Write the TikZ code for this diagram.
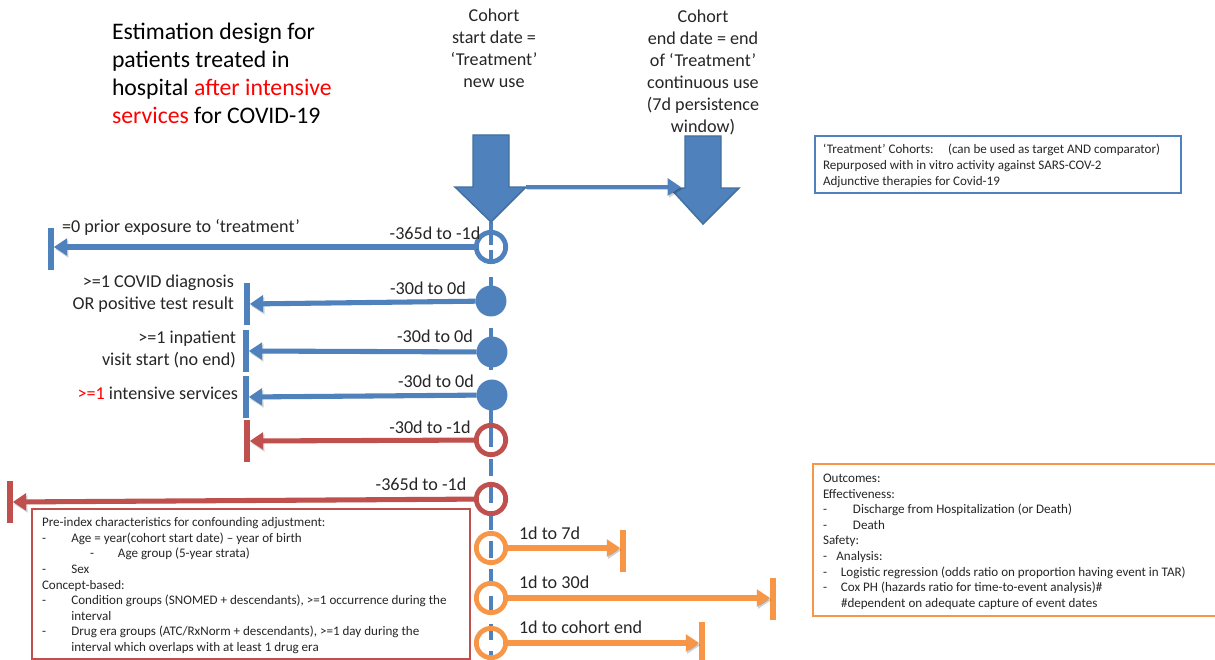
\documentclass[tikz,border=0pt]{standalone}
\usepackage{fontspec}
\setmainfont{Carlito}
\usetikzlibrary{arrows.meta}
\definecolor{bblue}{HTML}{4F81BD}
\definecolor{bdark}{HTML}{41719C}
\definecolor{bred}{HTML}{C0504D}
\definecolor{borange}{HTML}{F79646}
\definecolor{txt}{HTML}{262626}
\tikzset{
  x=.75pt,y=-.75pt,
  every node/.style={inner sep=0pt,outer sep=0pt,text=txt},
  title/.style={font=\fontsize{17.8}{21}\selectfont,anchor=west,align=left,text=black},
  lab/.style={font=\fontsize{13.6}{16.5}\selectfont},
  small/.style={font=\fontsize{9.8}{11.72}\selectfont,anchor=north west,align=left},
  smallb/.style={font=\fontsize{9.8}{12}\selectfont,anchor=north west,align=left},
  ring/.style={circle,draw=#1,line width=3.6pt,minimum size=22pt},
  disc/.style={circle,fill=bblue,minimum size=23.2pt},
  bar/.style={rectangle,fill=#1,minimum width=4.2pt,minimum height=31.5pt},
  conn/.style={draw=#1,line width=3.8pt,-{Triangle[length=10pt,width=12.5pt]},
    preaction={draw=black,opacity=.18,transform canvas={shift={(1pt,-1.5pt)}}}},
  bigarrow/.style={fill=bblue,draw=bdark,line width=1.1pt,line join=miter},
  dashtop/.style={draw=bblue,line width=3pt,dash pattern=on 17.25pt off 3.75pt on 9.75pt off 10.5pt on 26.25pt off 12pt on 31.5pt off 7.5pt on 50.25pt off 9pt},
  dashlow/.style={draw=bblue,line width=3pt,dash pattern=on 12.4pt off 8.2pt},
}
\begin{document}
\begin{tikzpicture}
\path[use as bounding box,fill=white] (0,0) rectangle (1215,660);
% timeline
\coordinate (tlstart) at (491,222);
\coordinate (tlmid) at (491,447);
\coordinate (tlmidb) at (491,459);
\coordinate (tlend) at (491,660);
\draw[dashtop] (tlstart) -- (tlmid);
\draw[dashlow] (tlmidb) -- (tlend);
% big arrows
\draw[bigarrow] (473,135) -- (509,135) -- (509,187) -- (526,187) -- (491,222) -- (455,187) -- (473,187) -- cycle;
\draw[bigarrow] (685,136) -- (721,136) -- (721,188) -- (739,188) -- (703,224) -- (670,188) -- (685,188) -- cycle;
\coordinate (spanA) at (526,187);
\coordinate (spanB) at (681,187);
\draw[conn=bblue,line width=3.4pt] (spanA) -- (spanB);
% circles
\node[ring=bblue] (c1) at (491,247) {};
\node[disc] (c2) at (491,301) {};
\node[disc] (c3) at (492,352) {};
\node[disc] (c4) at (492,395) {};
\node[ring=bred] (c5) at (491,440) {};
\node[ring=bred] (c6) at (491,499) {};
\node[ring=borange] (c7) at (491,548) {};
\node[ring=borange] (c8) at (491,598) {};
\node[ring=borange] (c9) at (491,643) {};
% bars
\node[bar=bblue] (b1) at (51,249) {};
\node[bar=bblue] (b2) at (247,304) {};
\node[bar=bblue] (b3) at (246,351) {};
\node[bar=bblue] (b4) at (246,397) {};
\node[bar=bred] (b5) at (247,441) {};
\node[bar=bred] (b6) at (10,502) {};
\node[bar=borange] (b7) at (623,551) {};
\node[bar=borange] (b8) at (773,599) {};
\node[bar=borange] (b9) at (702,643) {};
% connectors
\draw[conn=bblue] (c1.west) -- (c1.west -| b1.east);
\draw[conn=bblue] (c2) -- (b2);
\draw[conn=bblue] (c3) -- (b3);
\draw[conn=bblue] (c4) -- (b4);
\draw[conn=bred] (c5) -- (b5);
\draw[conn=bred] (c6) -- (b6);
\draw[conn=borange] (c7.east) -- (c7.east -| b7.west);
\draw[conn=borange] (c8.east) -- (c8.east -| b8.west);
\draw[conn=borange] (c9.east) -- (c9.east -| b9.west);
% title
\node[title] (ttl) at (112,73) {Estimation design for\\patients treated in\\hospital {\color{red}after intensive}\\{\color{red}services} for COVID-19};
% cohort labels
\node[lab,align=center] (ls) at (494,48) {Cohort\\start date =\\‘Treatment’\\new use};
\node[lab,align=center] (le) at (703,72) {Cohort\\end date = end\\of ‘Treatment’\\continuous use\\(7d persistence\\window)};
% arrow labels
\node[lab,anchor=west] (t1) at (62,227) {=0 prior exposure to ‘treatment’};
\node[lab] (t2) at (435,233) {-365d to -1d};
\node[lab,align=right,anchor=east] (t3) at (234,294) {>=1 COVID diagnosis\\OR positive test result};
\node[lab] (t4) at (428,288) {-30d to 0d};
\node[lab,align=right,anchor=east] (t5) at (236,349) {>=1 inpatient\\visit start (no end)};
\node[lab] (t6) at (435,336) {-30d to 0d};
\node[lab,anchor=east] (t7) at (238,393) {{\color{red}>=1} intensive services};
\node[lab] (t8) at (436,381) {-30d to 0d};
\node[lab] (t9) at (430,427) {-30d to -1d};
\node[lab] (t10) at (421,484) {-365d to -1d};
\node[lab,anchor=west] (t11) at (519,533) {1d to 7d};
\node[lab,anchor=west] (t12) at (519,582) {1d to 30d};
\node[lab,anchor=west] (t13) at (519,627) {1d to cohort end};
% boxes
\draw[bblue,line width=1.5pt] (815,136) rectangle (1181,193);
\node[smallb] (tb) at (823,143.5) {‘Treatment’ Cohorts:\hspace{1.1em}(can be used as target AND comparator)\\Repurposed with in vitro activity against SARS-COV-2\\Adjunctive therapies for Covid-19};
\draw[borange,line width=1.6pt] (1216,464) -- (813,464) -- (813,616) -- (1216,616);
\node[small] (to) at (823,474) {Outcomes:\\Effectiveness:\\\makebox[22.5pt][l]{-}Discharge from Hospitalization (or Death)\\\makebox[22.5pt][l]{-}Death\\Safety:\\\makebox[10pt][l]{-}Analysis:\\\makebox[13.5pt][l]{-}Logistic regression (odds ratio on proportion having event in TAR)\\\makebox[13.5pt][l]{-}Cox PH (hazards ratio for time-to-event analysis)\#\\\makebox[13.5pt][l]{}\#dependent on adequate capture of event dates};
\draw[bred,line width=1.5pt] (32,509) rectangle (470,659.2);
\node[small] (tr) at (42,517.5) {Pre-index characteristics for confounding adjustment:\\\makebox[22pt][l]{-}Age = year(cohort start date) – year of birth\\\hspace{36pt}\makebox[21pt][l]{-}Age group (5-year strata)\\\makebox[22pt][l]{-}Sex\\Concept-based:\\\makebox[22pt][l]{-}Condition groups (SNOMED + descendants), >=1 occurrence during the\\\makebox[22pt][l]{}interval\\\makebox[22pt][l]{-}Drug era groups (ATC/RxNorm + descendants), >=1 day during the\\\makebox[22pt][l]{}interval which overlaps with at least 1 drug era};
\end{tikzpicture}
\end{document}
